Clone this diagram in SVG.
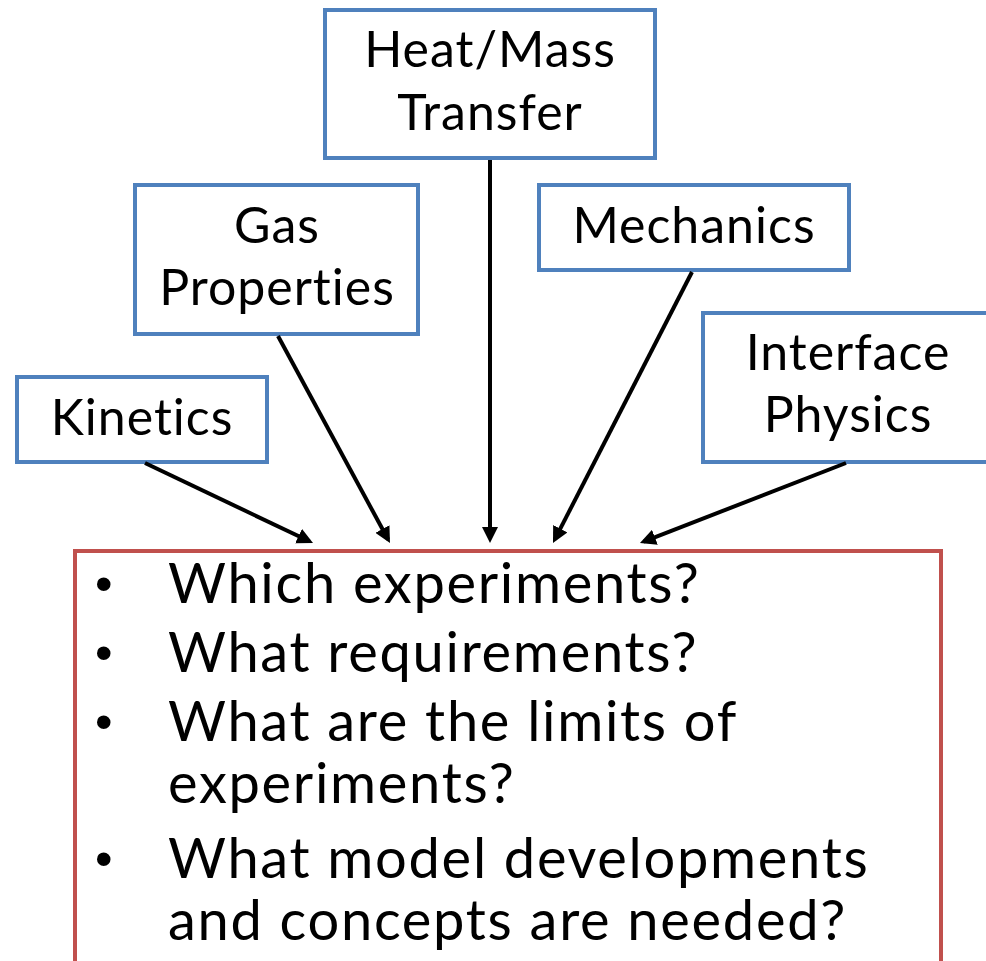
<svg xmlns="http://www.w3.org/2000/svg" width="986" height="961" viewBox="0 0 986 961">
<defs>
<style>
.box{fill:#fff;stroke:#4F81BD;stroke-width:4}
.main{fill:#fff;stroke:#C0504D;stroke-width:4}
.lbl{font-family:Lato,"Open Sans",sans-serif;font-size:50px;letter-spacing:1px;fill:#000;text-anchor:middle}
.bul{font-family:Lato,"Open Sans",sans-serif;font-size:56px;letter-spacing:1.7px;fill:#000}
.dot{font-family:"Liberation Sans",sans-serif;font-size:50px;fill:#000}
.conn{stroke:#000;stroke-width:4;fill:none;marker-end:url(#ah)}
</style>
<marker id="ah" markerWidth="4" markerHeight="4" refX="3" refY="2" orient="auto" markerUnits="strokeWidth">
<path d="M0,0 L4,2 L0,4 z" fill="#000"/>
</marker>
</defs>
<rect width="986" height="961" fill="#fff"/>
<g id="main">
<rect class="main" x="75" y="551" width="866" height="430"/>
<text class="dot" x="95" y="601">•</text>
<text class="bul" x="168" y="603">Which experiments?</text>
<text class="dot" x="95" y="670">•</text>
<text class="bul" x="168" y="672">What requirements?</text>
<text class="dot" x="95" y="739">•</text>
<text class="bul" x="168" y="741">What are the limits of</text>
<text class="bul" x="168" y="803">experiments?</text>
<text class="dot" x="95" y="876">•</text>
<text class="bul" x="168" y="878">What model developments</text>
<text class="bul" x="168" y="940">and concepts are needed?</text>
</g>
<g id="heat">
<rect class="box" x="325" y="10" width="330" height="148"/>
<text class="lbl" x="490" y="67">Heat/Mass</text>
<text class="lbl" x="490" y="130">Transfer</text>
</g>
<g id="gas">
<rect class="box" x="135" y="185" width="283" height="149"/>
<text class="lbl" x="277" y="243">Gas</text>
<text class="lbl" x="277" y="305">Properties</text>
</g>
<g id="mech">
<rect class="box" x="539" y="185" width="310" height="85"/>
<text class="lbl" x="694" y="243">Mechanics</text>
</g>
<g id="kin">
<rect class="box" x="17" y="377" width="250" height="85"/>
<text class="lbl" x="142" y="435">Kinetics</text>
</g>
<g id="iface">
<rect class="box" x="703" y="313" width="300" height="149"/>
<text class="lbl" x="848" y="370">Interface</text>
<text class="lbl" x="848" y="432">Physics</text>
</g>
<g id="connectors">
<line class="conn" x1="145" y1="463" x2="309.4" y2="541.3"/>
<line class="conn" x1="278" y1="336" x2="388.1" y2="539.5"/>
<line class="conn" x1="490" y1="160" x2="490" y2="539"/>
<line class="conn" x1="692" y1="272" x2="554.8" y2="539.4"/>
<line class="conn" x1="846" y1="463" x2="643.7" y2="541.6"/>
</g>
</svg>
